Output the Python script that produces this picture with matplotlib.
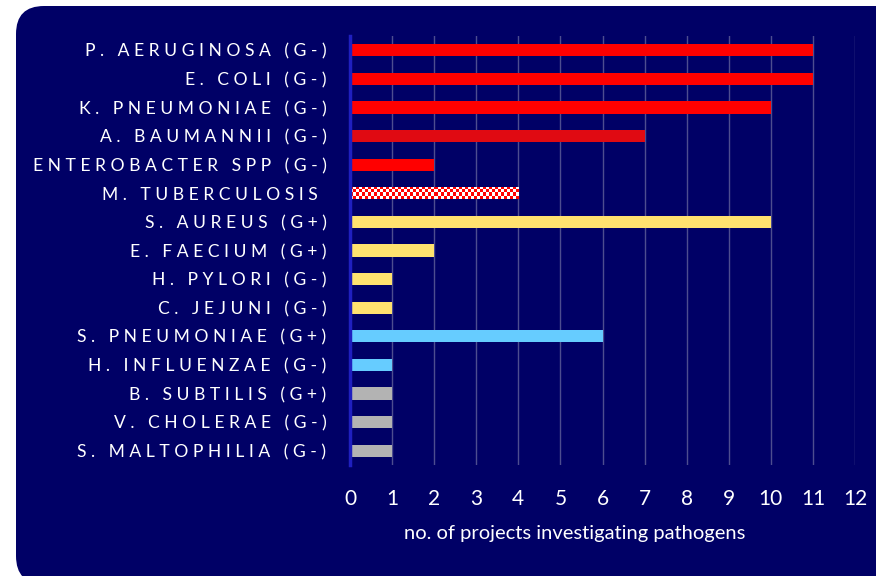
import matplotlib
matplotlib.use("Agg")
import matplotlib.pyplot as plt
import numpy as np
from matplotlib.patches import FancyBboxPatch
from matplotlib.transforms import IdentityTransform
from matplotlib.colors import ListedColormap

categories = ["P. AERUGINOSA (G-)", "E. COLI (G-)", "K. PNEUMONIAE (G-)",
              "A. BAUMANNII (G-)", "ENTEROBACTER SPP (G-)", "M. TUBERCULOSIS ",
              "S. AUREUS (G+)", "E. FAECIUM (G+)", "H. PYLORI (G-)",
              "C. JEJUNI (G-)", "S. PNEUMONIAE (G+)", "H. INFLUENZAE (G-)",
              "B. SUBTILIS (G+)", "V. CHOLERAE (G-)", "S. MALTOPHILIA (G-)"]
values = [11, 11, 10, 7, 2, 4, 10, 2, 1, 1, 6, 1, 1, 1, 1]
colors = ["#FF0000", "#FF0000", "#FF0000", "#E00A12", "#FF0000", "#FF0000",
          "#FFE26F", "#FFE26F", "#FFE26F", "#FFE26F", "#66CCFF", "#66CCFF",
          "#B3B3B3", "#B3B3B3", "#B3B3B3"]
checkered = [False, False, False, False, False, True,
             False, False, False, False, False, False, False, False, False]
xticks = list(range(0, 13))
xlabel = "no. of projects investigating pathogens"

BG = "#000066"
FONT = ["Lato", "DejaVu Sans"]

W, H = 876, 576
fig = plt.figure(figsize=(W / 100, H / 100), dpi=100, facecolor="white")

# rounded background panel (pixel coordinates)
panel = FancyBboxPatch((16, -8), W + 40 - 16, (H - 6) + 8,
                       boxstyle="round,pad=0,rounding_size=28",
                       transform=IdentityTransform(), facecolor=BG,
                       edgecolor="none", zorder=-10)
fig.patches.append(panel)

ax = fig.add_axes([350 / W, (H - 465) / H, 505 / W, 429 / H])
ax.set_facecolor("none")
ax.set_zorder(1)

n = len(categories)
ypos = np.arange(n)
bar_h = 0.42
bars = ax.barh(ypos, values, height=bar_h, color=colors, zorder=3)

# checkered pattern bar
for b, chk, v, y in zip(bars, checkered, values, ypos):
    if chk:
        nx = int(round(v * 42 / 3))
        ny = 4
        pat = (np.add.outer(np.arange(ny), np.arange(nx)) % 2).astype(float)
        cmap = ListedColormap(["#FF0000", "#FFFFFF"])
        im = ax.imshow(pat, cmap=cmap, extent=(0, v, y + bar_h / 2, y - bar_h / 2),
                       interpolation="nearest", aspect="auto", zorder=4)
        im.set_clip_path(b)

ax.set_xlim(0, 12)
ax.set_ylim(n - 0.5, -0.5)
ax.set_xticks(xticks)
ax.set_xticklabels([str(t) for t in xticks], fontsize=15, color="white", family=FONT)
ax.set_yticks(ypos)
spaced = [" ".join(list(c)) for c in categories]
ax.set_yticklabels(spaced, fontsize=12.6, color="white", family=FONT)
ax.tick_params(axis="both", length=0)
ax.tick_params(axis="x", pad=17)
ax.tick_params(axis="y", pad=17)

ax.grid(axis="x", color="#4D4D8F", linewidth=1, zorder=1)
ax.set_axisbelow(True)
for s in ["top", "right", "bottom"]:
    ax.spines[s].set_visible(False)
ax.spines["left"].set_color("#1F1FBF")
ax.spines["left"].set_linewidth(2.5)
ax.spines["left"].set_zorder(5)

ax.set_xlabel(xlabel, fontsize=14.5, color="white", family=FONT, labelpad=12)
ax.xaxis.set_label_coords((575 - 350) / 505, -(533 - 465) / 429, transform=ax.transAxes)
ax.xaxis.label.set_va("center")

fig.savefig("out.png", dpi=100, facecolor="white")
